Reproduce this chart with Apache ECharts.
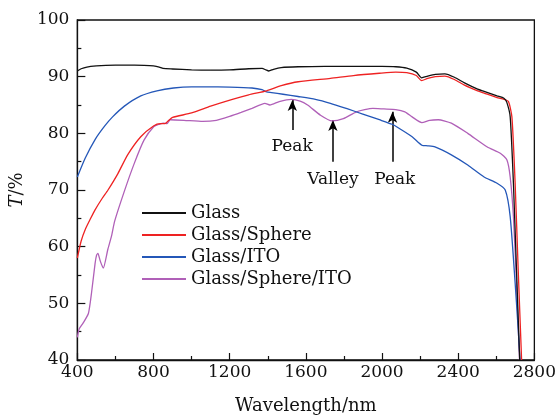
<!DOCTYPE html>
<html>
<head>
<meta charset="utf-8">
<script src="https://cdn.jsdelivr.net/npm/echarts@6/dist/echarts.min.js"></script>
<style>
html,body{margin:0;padding:0;background:#fff;}
#chart{width:559px;height:420px;}
</style>
</head>
<body>
<div id="chart"></div>
<script>
// ---- data ----
const seriesNames = ['Glass', 'Glass/Sphere', 'Glass/ITO', 'Glass/Sphere/ITO'];

const glassX = [400,420,450,500,550,650,750,800,830,850,900,1000,1100,1200,1300,1370,1390,1405,1430,1470,1560,1700,1900,2000,2072,2130,2180,2208,2240,2280,2330,2380,2433,2502,2536,2604,2640,2655,2673,2690,2705,2723];
const glassY = [91.0,91.4,91.7,91.9,92.0,92.05,92.0,91.9,91.7,91.45,91.35,91.2,91.15,91.2,91.4,91.45,91.2,91.0,91.3,91.6,91.75,91.8,91.8,91.8,91.75,91.5,90.8,89.8,90.1,90.4,90.5,89.9,88.9,87.8,87.4,86.6,86.2,85.5,82.9,71.2,57,40];

const sphereX = [400,420,441,470,493,530,561,613,664,733,800,836,860,880,900,1000,1100,1214,1300,1394,1471,1560,1729,1850,1986,2072,2130,2180,2208,2240,2280,2330,2380,2433,2502,2536,2604,2640,2664,2682,2699,2715,2733];
const sphereY = [58.0,61.0,63.0,65.0,66.5,68.5,70.0,72.9,76.2,79.4,81.3,81.7,81.7,82.3,82.8,83.6,84.8,86.0,86.8,87.5,88.4,89.1,89.7,90.2,90.6,90.8,90.7,90.2,89.3,89.7,90.0,90.1,89.5,88.5,87.5,87.1,86.3,86.0,85.6,82.9,71.2,56,40];

const itoX = [400,441,493,544,585,647,733,818,905,1000,1075,1200,1317,1370,1394,1420,1480,1559,1650,1729,1820,1899,1986,2053,2089,2158,2209,2240,2278,2364,2450,2536,2604,2647,2673,2699,2712,2725];
const itoY = [72.3,75.6,78.9,81.3,82.9,84.8,86.6,87.5,88.0,88.2,88.2,88.15,88.0,87.7,87.3,87.2,86.9,86.5,86.0,85.3,84.3,83.4,82.4,81.6,80.9,79.4,77.9,77.8,77.6,76.2,74.4,72.3,71.2,70.0,65.3,53.6,47,40];

const sphereItoX = [400,410,430,458,475,493,501,508,520,536,560,579,596,647,699,750,802,830,853,870,888,960,1059,1130,1200,1260,1317,1385,1411,1460,1523,1570,1609,1677,1737,1797,1866,1952,2010,2072,2120,2158,2209,2250,2295,2364,2450,2553,2621,2656,2673,2690,2707,2722];
const sphereItoY = [44.0,45.5,46.5,48.2,52,57.0,58.5,58.8,57.5,56.2,59.5,61.8,64.5,69.8,74.7,78.8,81.2,81.6,81.8,81.7,82.4,82.3,82.1,82.3,83.0,83.7,84.4,85.3,85.0,85.6,86.0,85.7,85.0,83.2,82.2,82.6,83.8,84.4,84.3,84.2,83.8,82.9,81.9,82.3,82.4,81.8,80.0,77.6,76.5,75.3,72.3,65.3,53,40];

// annotations
const annoLabels = ['Peak', 'Valley', 'Peak'];
const annoArrowX = [1529, 1742, 2055];
const annoArrowFrom = [80.6, 75.0, 75.0];
const annoArrowTo = [85.9, 82.35, 83.8];
const annoTextX = [1528, 1742, 2067];
const annoTextY = [77.6, 71.8, 71.8];

const xTicks = {min: 400, max: 2800, interval: 400};
const yTicks = {min: 40, max: 100, interval: 10};

// ---- chart ----
const FONT = 'DejaVu Serif';
const colors = ['#111111', '#ee2222', '#2457b8', '#b060b8'];
const xs = [glassX, sphereX, itoX, sphereItoX];
const ys = [glassY, sphereY, itoY, sphereItoY];

const series = seriesNames.map((n, i) => ({
  name: n,
  type: 'line',
  symbol: 'none',
  showSymbol: false,
  smooth: 0.2,
  clip: true,
  z: 10 - i,
  lineStyle: {color: colors[i], width: 1.3},
  itemStyle: {color: colors[i]},
  data: xs[i].map((x, k) => [x, ys[i][k]])
}));

series[3].markLine = {
  silent: true,
  symbol: ['none', 'arrow'],
  symbolSize: [7, 11],
  label: {show: false},
  lineStyle: {color: '#000', width: 1.5, type: 'solid'},
  data: annoLabels.map((l, i) => [
    {coord: [annoArrowX[i], annoArrowFrom[i]]},
    {coord: [annoArrowX[i], annoArrowTo[i]]}
  ])
};
series[3].markPoint = {
  silent: true,
  symbol: 'circle',
  symbolSize: 0,
  itemStyle: {color: 'rgba(0,0,0,0)'},
  label: {show: true, position: 'inside', color: '#111', fontFamily: FONT, fontSize: 17,
          formatter: p => p.name},
  data: annoLabels.map((l, i) => ({name: l, coord: [annoTextX[i], annoTextY[i]]}))
};

const chart = echarts.init(document.getElementById('chart'), null, {renderer: 'canvas'});
chart.setOption({
  animation: false,
  backgroundColor: '#fff',
  grid: {left: 72, right: 21, top: 20, bottom: 60, show: true, borderColor: '#111', borderWidth: 1.3, backgroundColor: 'transparent'},
  legend: {
    orient: 'vertical', left: 137, top: 197,
    icon: 'rect', itemWidth: 44, itemHeight: 2, itemGap: 0,
    textStyle: {fontFamily: FONT, fontSize: 18, color: '#111', lineHeight: 22},
    data: seriesNames
  },
  xAxis: {
    type: 'value', min: xTicks.min, max: xTicks.max, interval: xTicks.interval,
    name: 'Wavelength/nm', nameLocation: 'middle', nameGap: 37,
    nameTextStyle: {fontFamily: FONT, fontSize: 18, color: '#111'},
    axisLine: {show: true, lineStyle: {color: '#111', width: 1.3}},
    axisTick: {show: true, inside: true, length: 7, lineStyle: {color: '#111', width: 1.2}},
    minorTick: {show: true, splitNumber: 2, length: 4, lineStyle: {color: '#111', width: 1.2}},
    splitLine: {show: false},
    axisLabel: {fontFamily: FONT, fontSize: 17, color: '#111', margin: 4, formatter: v => String(v)}
  },
  yAxis: {
    type: 'value', min: yTicks.min, max: yTicks.max, interval: yTicks.interval,
    name: '{i|T}/%', nameLocation: 'middle', nameGap: 39, nameRotate: 90,
    nameTextStyle: {fontFamily: FONT, fontSize: 18, color: '#111',
      rich: {i: {fontFamily: FONT, fontSize: 18, fontStyle: 'italic', color: '#111'}}},
    axisLine: {show: true, lineStyle: {color: '#111', width: 1.3}},
    axisTick: {show: true, inside: true, length: 8, lineStyle: {color: '#111', width: 1.2}},
    minorTick: {show: true, splitNumber: 2, length: 4, lineStyle: {color: '#111', width: 1.2}},
    splitLine: {show: false},
    axisLabel: {fontFamily: FONT, fontSize: 17, color: '#111', margin: 8, formatter: v => String(v)}
  },
  series: series
});
</script>
</body>
</html>
